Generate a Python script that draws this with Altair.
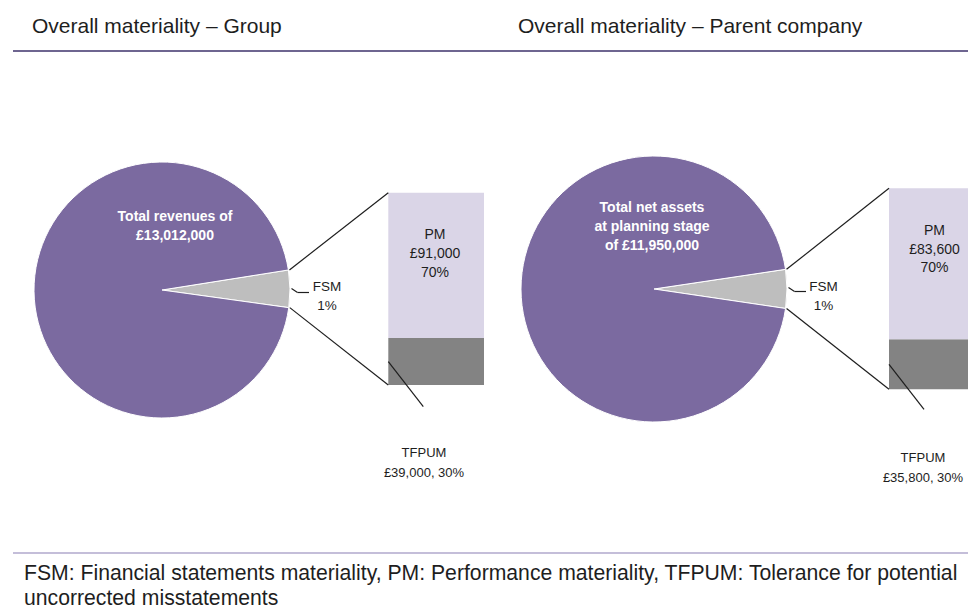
import math
import altair as alt
import pandas as pd

# ---------------- data ----------------
panel_keys = ["group", "parent"]
panel_titles = ["Overall materiality – Group", "Overall materiality – Parent company"]

pie_segments = ["FSM", "Other"]
pie_shares = {"group": [4.7, 95.3], "parent": [4.7, 95.3]}          # drawn share of the circle, %
pie_labels = {"group": ["Total revenues of", "£13,012,000"],
              "parent": ["Total net assets", "at planning stage", "of £11,950,000"]}
fsm_labels = ["FSM", "1%"]

bar_segments = ["TFPUM", "PM"]                                      # bottom to top
bar_shares = {"group": [24.4, 75.6], "parent": [24.9, 75.1]}        # drawn share of the bar, %
pm_labels = {"group": ["PM", "£91,000", "70%"], "parent": ["PM", "£83,600", "70%"]}
tfpum_labels = {"group": ["TFPUM", "£39,000, 30%"], "parent": ["TFPUM", "£35,800, 30%"]}

footer_lines = ["FSM: Financial statements materiality, PM: Performance materiality, TFPUM: Tolerance for potential",
                "uncorrected misstatements"]

# ---------------- layout / style ----------------
M = 8  # page margin
W, H = 960, 600

def px(v):
    return v - M

layout = {
    "group": dict(cx=162, cy=290, r=128, start=81.0,
                  bx0=388.3, bx1=484, btop=192.7, bbot=385,
                  title_x=32, pie_tx=175, pie_ty=217.3, pie_lh=19,
                  pm_x=435, pm_y=235, pm_lh=19,
                  fsm_x=327, fsm_y=287.3, fsm_lh=18.5,
                  tf_x=424, tf_y=453.3, tf_lh=20),
    "parent": dict(cx=654, cy=289, r=133, start=81.5,
                   bx0=889, bx1=985, btop=188.3, bbot=389.3,
                   title_x=518, pie_tx=652, pie_ty=208.3, pie_lh=18.7,
                   pm_x=934.5, pm_y=230.7, pm_lh=18.8,
                   fsm_x=823.5, fsm_y=286.7, fsm_lh=19,
                   tf_x=923, tf_y=458.3, tf_lh=20),
}

PURPLE = "#7B6AA0"
color_scale = alt.Scale(domain=["Other", "FSM", "PM", "TFPUM"],
                        range=[PURPLE, "#BEBEBE", "#DAD5E7", "#838383"])
LINE = "#1e1e1e"
TEXT = "#1e1e1e"
FONT = "Liberation Sans, Arial, sans-serif"

dummy = alt.Data(values=[{"a": 1}])

def text_layer(s, x, y, size, color=TEXT, weight="normal", align="center"):
    return alt.Chart(dummy).mark_text(
        font=FONT, fontSize=size, fontWeight=weight, color=color,
        align=align, baseline="middle"
    ).encode(x=alt.value(px(x)), y=alt.value(px(y)), text=alt.value(s))

def rule_layer(x1, y1, x2, y2, color=LINE, width=1.2):
    return alt.Chart(dummy).mark_rule(color=color, strokeWidth=width).encode(
        x=alt.value(px(x1)), y=alt.value(px(y1)),
        x2=alt.value(px(x2)), y2=alt.value(px(y2)))

layers = []

# header & footer rules
layers.append(rule_layer(13, 51, 980, 51, color="#6E6590", width=2))
layers.append(rule_layer(13, 553, 980, 553, color="#B0A8CC", width=1.5))

for key, title in zip(panel_keys, panel_titles):
    L = layout[key]
    layers.append(text_layer(title, L["title_x"], 26.5, 21, align="left"))

    # pie
    pdf = pd.DataFrame({"segment": pie_segments, "share": pie_shares[key], "idx": [0, 1]})
    start = math.radians(L["start"])
    layers.append(
        alt.Chart(pdf).mark_arc(radius=L["r"], stroke="white", strokeWidth=1).encode(
            theta=alt.Theta("share:Q", stack=True,
                            scale=alt.Scale(domain=[0, 100], range=[start, start + 2 * math.pi])),
            color=alt.Color("segment:N", scale=color_scale, legend=None),
            order=alt.Order("idx:Q"),
            x=alt.value(px(L["cx"])), y=alt.value(px(L["cy"])),
        )
    )

    # bar
    bdf = pd.DataFrame({"segment": bar_segments, "share": bar_shares[key]})
    bdf["y1"] = bdf["share"].cumsum()
    bdf["y0"] = bdf["y1"] - bdf["share"]
    layers.append(
        alt.Chart(bdf).mark_rect().encode(
            x=alt.value(px(L["bx0"])), x2=alt.value(px(L["bx1"])),
            y=alt.Y("y0:Q", scale=alt.Scale(domain=[0, 100], range=[px(L["bbot"]), px(L["btop"])]), axis=None),
            y2="y1:Q",
            color=alt.Color("segment:N", scale=color_scale, legend=None),
        )
    )

    # connector lines from slice edges to bar corners
    fsm_share = pie_shares[key][0]
    a0 = math.radians(L["start"])
    a1 = a0 + 2 * math.pi * fsm_share / 100
    ux, uy = L["cx"] + L["r"] * math.sin(a0), L["cy"] - L["r"] * math.cos(a0)
    lx, ly = L["cx"] + L["r"] * math.sin(a1), L["cy"] - L["r"] * math.cos(a1)
    layers.append(rule_layer(ux + 1, uy, L["bx0"], L["btop"]))
    layers.append(rule_layer(lx + 1, ly, L["bx0"], L["bbot"]))

    # TFPUM leader from middle of its segment
    tf_share = bar_shares[key][0]
    tf_mid = L["bbot"] - (L["bbot"] - L["btop"]) * tf_share / 200
    layers.append(rule_layer(L["bx0"], tf_mid, L["bx0"] + 35, tf_mid + 45))

    # FSM leader (small hook)
    ex = L["cx"] + L["r"]
    layers.append(rule_layer(ex + 1.5, L["cy"] - 1.5, ex + 7.5, L["cy"] + 2.5))
    layers.append(rule_layer(ex + 7.5, L["cy"] + 2.5, ex + 19, L["cy"] + 2.5))

    # texts
    for i, s in enumerate(pie_labels[key]):
        layers.append(text_layer(s, L["pie_tx"], L["pie_ty"] + i * L["pie_lh"], 14, color="white", weight="bold"))
    for i, s in enumerate(pm_labels[key]):
        layers.append(text_layer(s, L["pm_x"], L["pm_y"] + i * L["pm_lh"], 14))
    for i, s in enumerate(fsm_labels):
        layers.append(text_layer(s, L["fsm_x"], L["fsm_y"] + i * L["fsm_lh"], 13.5))
    for i, s in enumerate(tfpum_labels[key]):
        layers.append(text_layer(s, L["tf_x"], L["tf_y"] + i * L["tf_lh"], 13))

for i, s in enumerate(footer_lines):
    layers.append(text_layer(s, 24, 574 + i * 25, 21.2, align="left"))

chart = (
    alt.layer(*layers)
    .resolve_scale(theta="independent", y="independent")
    .properties(width=W, height=H, padding=0, autosize="none")
    .configure_view(stroke=None)
)

chart.save("out.html", embed_options={"renderer": "svg", "actions": False})
